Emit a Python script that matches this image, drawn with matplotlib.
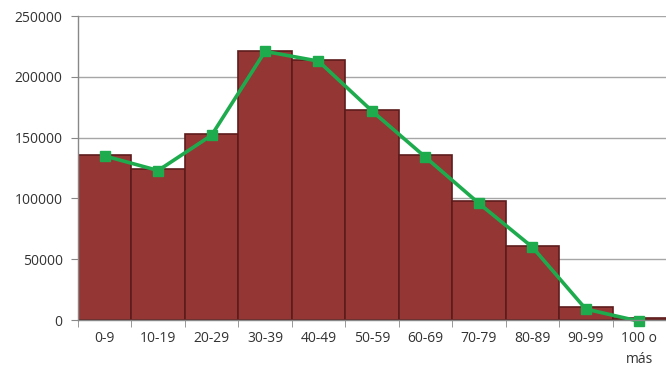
import matplotlib
matplotlib.use("Agg")
import matplotlib.pyplot as plt
import numpy as np

categories = ["0-9", "10-19", "20-29", "30-39", "40-49", "50-59",
              "60-69", "70-79", "80-89", "90-99", "100 o\nmás"]
bar_values = [136000, 124000, 153000, 221000, 214000, 173000,
              136000, 98000, 61000, 11000, 1500]
line_values = [135000, 123000, 152000, 221000, 213000, 172000,
               134000, 96000, 60000, 9000, -1000]
yticks = [0, 50000, 100000, 150000, 200000, 250000]

plt.rcParams['font.family'] = ['Open Sans', 'DejaVu Sans']

fig = plt.figure(figsize=(6.66, 3.67), dpi=100)
ax = fig.add_axes([0.117, 0.128, 0.883, 0.828])

x = np.arange(len(categories))
ax.bar(x, bar_values, width=1.0, color="#943634", edgecolor="#5c1c1b",
       linewidth=1.2, zorder=2)
ax.plot(x, line_values, color="#1eab4e", linewidth=2.6, marker="s",
        markersize=6.5, zorder=3, clip_on=False)

ax.set_xlim(-0.5, len(categories) - 0.5)
ax.set_ylim(0, 250000)
ax.set_yticks(yticks)
ax.set_yticklabels([str(v) for v in yticks], fontsize=10, color="#333333")
ax.set_xticks(x)
ax.set_xticklabels(categories, fontsize=10, color="#333333", linespacing=1.5,
                   va="top")
ax.tick_params(axis="x", which="major", length=0, pad=8)
ax.set_xticks(np.arange(-0.5, len(categories), 1.0), minor=True)
ax.tick_params(axis="x", which="minor", length=5, color="#888888")
ax.tick_params(axis="y", length=5, color="#888888", pad=6)

ax.grid(axis="y", color="#a6a6a6", linewidth=1.0, zorder=0)
ax.set_axisbelow(True)
for s in ["top", "right"]:
    ax.spines[s].set_visible(False)
for s in ["left", "bottom"]:
    ax.spines[s].set_color("#888888")
    ax.spines[s].set_linewidth(1.0)
ax.spines["bottom"].set_zorder(4)

fig.savefig("out.png", dpi=100)
